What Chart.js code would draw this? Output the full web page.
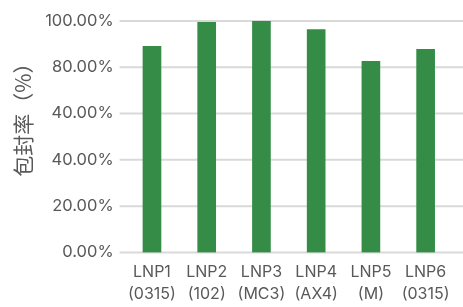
<!DOCTYPE html>
<html>
<head>
<meta charset="utf-8">
<script src="https://cdn.jsdelivr.net/npm/chart.js@4"></script>
<style>
html,body{margin:0;padding:0;background:#fff;}
#wrap{width:463px;height:307px;position:relative;}
</style>
</head>
<body>
<div id="wrap"><canvas id="c" width="463" height="307"></canvas></div>
<script>
const categories = [["LNP1","(0315)"],["LNP2","(102)"],["LNP3","(MC3)"],["LNP4","(AX4)"],["LNP5","(M)"],["LNP6","(0315)"]];
const encapsulation = [89.0, 99.4, 99.8, 96.3, 82.5, 87.7];
const tickLabels = ["0.00%","20.00%","40.00%","40.00%","80.00%","100.00%"];
const yTitle = "包封率（%）";

const gridPlugin = {
  id: 'fullGrid',
  beforeDatasetsDraw(chart) {
    const y = chart.scales.y;
    const ctx = chart.ctx;
    ctx.save();
    ctx.strokeStyle = '#d9d9d9';
    ctx.lineWidth = 2;
    y.ticks.forEach(t => {
      const py = y.getPixelForValue(t.value);
      ctx.beginPath();
      ctx.moveTo(y.right - 5, py);
      ctx.lineTo(chart.width, py);
      ctx.stroke();
    });
    ctx.restore();
  },
  afterDraw(chart) {
    const ctx = chart.ctx;
    const a = chart.chartArea;
    ctx.save();
    ctx.translate(23, (a.top + a.bottom) / 2 - 22);
    ctx.rotate(-Math.PI / 2);
    ctx.fillStyle = '#595959';
    ctx.font = '21px "Noto Sans CJK SC", Inter, sans-serif';
    ctx.textAlign = 'center';
    ctx.textBaseline = 'middle';
    ctx.fillText(yTitle, 0, 0);
    ctx.restore();
  }
};

new Chart(document.getElementById('c'), {
  type: 'bar',
  data: {
    labels: categories,
    datasets: [{
      data: encapsulation,
      backgroundColor: '#348C47',
      borderWidth: 0,
      barThickness: 18
    }]
  },
  options: {
    responsive: false,
    animation: false,
    devicePixelRatio: 1,
    layout: { padding: { top: 20, right: 10, left: 0, bottom: 0 } },
    plugins: { legend: { display: false }, tooltip: { enabled: false } },
    scales: {
      x: {
        grid: { display: false, drawTicks: false },
        border: { display: false },
        ticks: {
          color: '#595959',
          font: { family: 'Inter', size: 16, lineHeight: 1.4 },
          padding: 8,
          maxRotation: 0, autoSkip: false
        },
        afterFit(s) { s.height = 54.5; }
      },
      y: {
        min: 0, max: 100,
        grid: { display: false, drawTicks: false },
        border: { display: false },
        ticks: {
          stepSize: 20,
          color: '#595959',
          font: { family: 'Inter', size: 16.5 },
          padding: 11,
          callback: (v, i) => tickLabels[i]
        },
        afterFit(s) { s.width = 124.6; }
      }
    }
  },
  plugins: [gridPlugin]
});
</script>
</body>
</html>
